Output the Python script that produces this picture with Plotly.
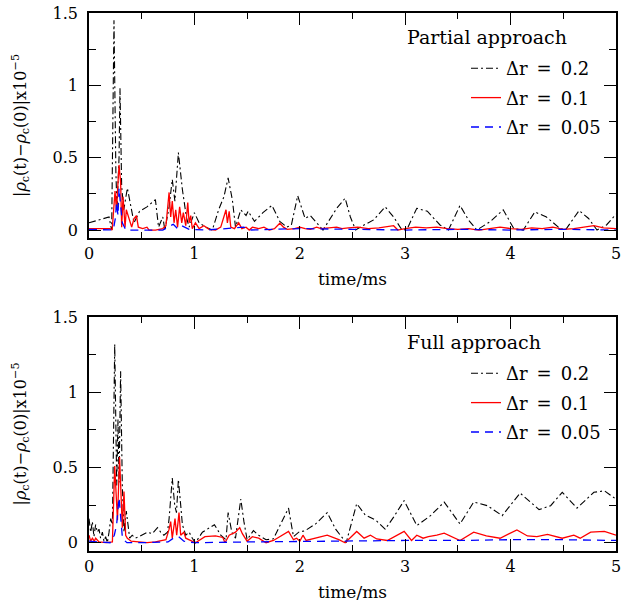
import plotly.graph_objects as go

# ---------------- data ----------------
# Top panel: Partial approach
pb_t = [0.00, 0.10, 0.19, 0.215, 0.237, 0.255, 0.266, 0.285, 0.294, 0.31, 0.33, 0.364, 0.39, 0.427, 0.46, 0.48,
        0.55, 0.63, 0.66, 0.70, 0.72, 0.76, 0.79, 0.815, 0.848, 0.886, 0.924, 0.95, 1.00, 1.045, 1.11, 1.17,
        1.23, 1.28, 1.32, 1.36, 1.39, 1.44, 1.49, 1.51, 1.57, 1.65, 1.735, 1.81, 1.877, 1.92, 1.98, 2.05,
        2.10, 2.16, 2.22, 2.35, 2.43, 2.48, 2.53, 2.61, 2.70, 2.81, 2.89, 2.97, 3.02, 3.11, 3.21, 3.33,
        3.41, 3.52, 3.60, 3.68, 3.81, 3.93, 4.03, 4.12, 4.23, 4.34, 4.47, 4.52, 4.65, 4.74, 4.82, 4.91, 5.00]
pb_v = [0.05, 0.07, 0.09, 0.0, 1.45, 0.4, 0.14, 0.5, 0.98, 0.3, 0.14, 0.29, 0.19, 0.05, 0.10, 0.13,
        0.16, 0.21, 0.02, 0.09, 0.0, 0.16, 0.35, 0.2, 0.535, 0.28, 0.09, 0.02, 0.12, 0.05, 0.02, 0.0,
        0.14, 0.23, 0.36, 0.21, 0.02, 0.14, 0.10, 0.13, 0.06, 0.12, 0.17, 0.06, 0.02, 0.035, 0.237, 0.08,
        0.10, 0.047, 0.0, 0.15, 0.22, 0.09, 0.0, 0.035, 0.07, 0.16, 0.09, 0.0, 0.01, 0.15, 0.13, 0.035,
        0.0, 0.17, 0.07, 0.0, 0.06, 0.14, 0.01, 0.0, 0.125, 0.09, 0.01, 0.0, 0.135, 0.08, 0.0, 0.035, 0.11]

pr_t = [0.0, 0.1, 0.2, 0.22, 0.247, 0.26, 0.272, 0.285, 0.30, 0.31, 0.323, 0.342, 0.354, 0.38, 0.405, 0.427,
        0.45, 0.468, 0.51, 0.55, 0.57, 0.63, 0.70, 0.73, 0.744, 0.76, 0.775, 0.79, 0.807, 0.823, 0.84, 0.86,
        0.88, 0.895, 0.918, 0.937, 0.95, 0.965, 0.98, 1.01, 1.045, 1.09, 1.14, 1.20, 1.25, 1.28, 1.30, 1.313,
        1.33, 1.345, 1.38, 1.42, 1.45, 1.49, 1.52, 1.55, 1.61, 1.66, 1.71, 1.76, 1.81, 1.845, 1.88, 1.95,
        2.0, 2.05, 2.1, 2.16, 2.2, 2.35, 2.4, 2.46, 2.55, 2.65, 2.75, 2.89, 2.93, 3.0, 3.1, 3.2, 3.3, 3.4,
        3.5, 3.6, 3.7, 3.8, 3.9, 4.0, 4.1, 4.2, 4.3, 4.4, 4.5, 4.6, 4.7, 4.79, 4.88, 5.0]
pr_v = [0.01, 0.01, 0.01, 0.0, 0.27, 0.14, 0.3, 0.45, 0.33, 0.02, 0.23, 0.02, 0.14, 0.07, 0.02, 0.08,
        0.10, 0.02, 0.01, 0.02, 0.0, 0.0, 0.01, 0.03, 0.14, 0.26, 0.09, 0.2, 0.05, 0.14, 0.02, 0.16,
        0.05, 0.12, 0.03, 0.19, 0.05, 0.10, 0.01, 0.05, 0.01, 0.03, 0.005, 0.0, 0.02, 0.10, 0.14, 0.05,
        0.13, 0.02, 0.01, 0.05, 0.01, 0.02, 0.0, 0.02, 0.01, 0.02, 0.0, 0.01, 0.047, 0.02, 0.005, 0.01,
        0.02, 0.01, 0.005, 0.02, 0.01, 0.02, 0.01, 0.015, 0.02, 0.01, 0.015, 0.03, 0.0, 0.01, 0.02, 0.015, 0.02, 0.01,
        0.005, 0.01, 0.0, 0.01, 0.02, 0.01, 0.005, 0.015, 0.01, 0.02, 0.005, 0.01, 0.02, 0.03, 0.015, 0.01]

pbl_t = [0.0, 0.2, 0.23, 0.25, 0.262, 0.275, 0.285, 0.30, 0.316, 0.33, 0.35, 0.45, 0.55, 0.7, 0.75, 0.8,
         0.84, 0.88, 0.95, 1.1, 1.3, 1.47, 1.52, 1.8, 2.0, 2.5, 3.0, 3.5, 4.0, 4.5, 5.0]
pbl_v = [0.005, 0.005, 0.0, 0.08, 0.19, 0.10, 0.29, 0.17, 0.05, 0.03, 0.0, 0.0, 0.0, 0.0, 0.02, 0.04,
         0.01, 0.03, 0.005, 0.0, 0.01, 0.02, 0.0, 0.005, 0.01, 0.005, 0.0, 0.005, 0.0, 0.005, 0.0]

# Bottom panel: Full approach
fb_t = [0.0, 0.016, 0.032, 0.047, 0.063, 0.079, 0.095, 0.11, 0.127, 0.142, 0.158, 0.174, 0.19, 0.206, 0.222,
        0.244, 0.263, 0.275, 0.285, 0.30, 0.316, 0.332, 0.354, 0.373, 0.386, 0.41, 0.44, 0.475, 0.506, 0.554,
        0.60, 0.65, 0.68, 0.71, 0.745, 0.76, 0.79, 0.813, 0.83, 0.848, 0.87, 0.886, 0.918, 0.95, 0.98, 1.01,
        1.076, 1.14, 1.19, 1.25, 1.30, 1.32, 1.355, 1.39, 1.44, 1.47, 1.50, 1.56, 1.61, 1.68, 1.75, 1.893,
        1.94, 1.99, 2.05, 2.15, 2.26, 2.34, 2.44, 2.54, 2.62, 2.72, 2.81, 2.89, 2.99, 3.11, 3.24, 3.37,
        3.52, 3.65, 3.78, 3.92, 4.09, 4.27, 4.38, 4.49, 4.63, 4.79, 4.89, 5.0]
fb_v = [0.16, 0.07, 0.14, 0.04, 0.12, 0.07, 0.09, 0.03, 0.07, 0.01, 0.04, 0.0, 0.07, 0.16, 0.12,
        1.32, 0.38, 0.82, 0.4, 1.14, 0.38, 0.07, 0.21, 0.12, 0.03, 0.05, 0.03, 0.04, 0.05, 0.07,
        0.06, 0.10, 0.07, 0.05, 0.07, 0.16, 0.43, 0.25, 0.2, 0.42, 0.25, 0.12, 0.05, 0.07, 0.03, 0.0,
        0.07, 0.10, 0.12, 0.05, 0.02, 0.2, 0.07, 0.03, 0.29, 0.14, 0.02, 0.08, 0.05, 0.02, 0.026, 0.23,
        0.04, 0.07, 0.08, 0.125, 0.2, 0.09, 0.0, 0.26, 0.185, 0.15, 0.09, 0.17, 0.28, 0.114, 0.18, 0.27,
        0.125, 0.27, 0.246, 0.18, 0.33, 0.22, 0.246, 0.335, 0.23, 0.335, 0.345, 0.29]

fr_t = [0.0, 0.016, 0.032, 0.05, 0.063, 0.095, 0.16, 0.222, 0.244, 0.26, 0.27, 0.29, 0.307, 0.316, 0.332,
        0.348, 0.364, 0.40, 0.47, 0.55, 0.63, 0.73, 0.76, 0.775, 0.79, 0.816, 0.832, 0.854, 0.87, 0.90, 0.918,
        0.95, 1.01, 1.10, 1.20, 1.27, 1.29, 1.33, 1.39, 1.43, 1.455, 1.50, 1.55, 1.61, 1.68, 1.75, 1.893,
        1.94, 1.97, 2.0, 2.03, 2.06, 2.15, 2.26, 2.37, 2.43, 2.54, 2.61, 2.67, 2.73, 2.83, 2.92, 2.99,
        3.06, 3.11, 3.17, 3.22, 3.30, 3.37, 3.52, 3.65, 3.77, 3.90, 4.06, 4.16, 4.25, 4.35, 4.49, 4.60,
        4.66, 4.76, 4.89, 5.0]
fr_v = [0.05, 0.01, 0.03, 0.01, 0.03, 0.005, 0.0, 0.005, 0.51, 0.24, 0.15, 0.57, 0.24, 0.10, 0.34,
        0.05, 0.03, 0.01, 0.005, 0.0, 0.005, 0.02, 0.09, 0.14, 0.03, 0.16, 0.05, 0.2, 0.05, 0.07, 0.03,
        0.02, 0.0, 0.04, 0.045, 0.035, 0.0, 0.05, 0.07, 0.10, 0.06, 0.01, 0.04, 0.03, 0.0, 0.015, 0.075,
        0.02, 0.03, 0.01, 0.05, 0.015, 0.03, 0.05, 0.02, 0.0, 0.075, 0.03, 0.05, 0.025, 0.015, 0.05, 0.075,
        0.015, 0.05, 0.03, 0.04, 0.05, 0.063, 0.015, 0.07, 0.045, 0.03, 0.085, 0.045, 0.04, 0.055, 0.03, 0.05,
        0.03, 0.07, 0.075, 0.05]

fbl_t = [0.0, 0.1, 0.2, 0.24, 0.262, 0.285, 0.30, 0.316, 0.33, 0.36, 0.5, 0.75, 0.80, 0.85, 0.9, 1.0,
         1.5, 2.0, 2.5, 3.0, 3.5, 4.0, 4.5, 5.0]
fbl_v = [0.01, 0.005, 0.0, 0.05, 0.12, 0.30, 0.15, 0.04, 0.02, 0.0, 0.0, 0.005, 0.03, 0.04, 0.01, 0.0,
         0.005, 0.01, 0.01, 0.015, 0.015, 0.02, 0.02, 0.015]

series_names = ["\u0394r\u2002=\u20020.2", "\u0394r\u2002=\u20020.1", "\u0394r\u2002=\u20020.05"]
panel_titles = ["Partial approach", "Full approach"]

# ---------------- figure ----------------
FONT = "DejaVu Serif"
W, H = 621, 606
ML, MR = 89, 5
PW = W - ML - MR


def px_x(p):  # pixel -> paper x
    return (p - ML) / PW


def px_y(p):  # pixel -> paper y
    return 1 - p / H


styles = [dict(color="black", width=1.1, dash="7px,3px,2px,3px"),
          dict(color="red", width=1.3, dash="solid"),
          dict(color="blue", width=1.3, dash="8px,6px")]

fig = go.Figure()
panels = [
    ("x", "y", "legend", [(pb_t, pb_v), (pr_t, pr_v), (pbl_t, pbl_v)]),
    ("x2", "y2", "legend2", [(fb_t, fb_v), (fr_t, fr_v), (fbl_t, fbl_v)]),
]
for xa, ya, lg, data in panels:
    for i, (t, v) in enumerate(data):
        fig.add_trace(go.Scatter(x=t, y=v, mode="lines", xaxis=xa, yaxis=ya,
                                 name=series_names[i], line=styles[i], legend=lg,
                                 legendgroup=f"{lg}{i}", showlegend=True))

ytitle = "|<i>\u03c1</i><sub>c</sub>(t)\u2212<i>\u03c1</i><sub>c</sub>(0)|x10<sup>\u22125</sup>"

axis_common = dict(showline=True, linecolor="black", linewidth=1.5, mirror="ticks",
                   ticks="inside", tickcolor="black", tickwidth=1.2, showgrid=False,
                   zeroline=False, automargin=False, ticklabeloverflow="allow",
                   tickfont=dict(family=FONT, size=16, color="black"))
xminor = dict(dtick=0.5, ticklen=6, ticks="inside", tickcolor="black", tickwidth=1.2)
yminor = dict(dtick=0.25, ticklen=7, ticks="inside", tickcolor="black", tickwidth=1.2)

fig.update_layout(
    width=W, height=H,
    margin=dict(l=ML, r=MR, t=0, b=0),
    plot_bgcolor="white", paper_bgcolor="white",
    font=dict(family=FONT, color="black"),
    xaxis=dict(domain=[0, 1], range=[0, 5], dtick=1, ticklen=12, anchor="y", minor=xminor,
               title=dict(text="time/ms", font=dict(family=FONT, size=17), standoff=11),
               **axis_common),
    yaxis=dict(domain=[px_y(238), px_y(13)], range=[-0.055, 1.5], dtick=0.5, ticklen=12, anchor="x",
               minor=yminor, ticklabelstandoff=6,
               title=dict(text=ytitle, font=dict(family=FONT, size=16), standoff=22),
               **axis_common),
    xaxis2=dict(domain=[0, 1], range=[0, 5], dtick=1, ticklen=12, anchor="y2", minor=xminor,
                title=dict(text="time/ms", font=dict(family=FONT, size=17), standoff=11),
                **axis_common),
    yaxis2=dict(domain=[px_y(551), px_y(317)], range=[-0.055, 1.5], dtick=0.5, ticklen=12, anchor="x2",
                minor=yminor, ticklabelstandoff=6,
                title=dict(text=ytitle, font=dict(family=FONT, size=16), standoff=22),
                **axis_common),
    legend=dict(x=px_x(466), y=px_y(50), xanchor="left", yanchor="top", xref="paper", yref="paper",
                bgcolor="rgba(0,0,0,0)", font=dict(family=FONT, size=18), tracegroupgap=3,
                itemclick=False, borderwidth=0),
    legend2=dict(x=px_x(466), y=px_y(355), xanchor="left", yanchor="top", xref="paper", yref="paper",
                 bgcolor="rgba(0,0,0,0)", font=dict(family=FONT, size=18), tracegroupgap=3,
                 itemclick=False, borderwidth=0),
    annotations=[
        dict(text=panel_titles[0], xref="paper", yref="paper", x=px_x(405), y=px_y(37),
             xanchor="left", yanchor="middle", showarrow=False, font=dict(family=FONT, size=19)),
        dict(text=panel_titles[1], xref="paper", yref="paper", x=px_x(405), y=px_y(342),
             xanchor="left", yanchor="middle", showarrow=False, font=dict(family=FONT, size=19)),
    ],
)

fig.write_html("out.html", config={"displayModeBar": False},
               post_script="document.body.style.margin='0';document.body.style.padding='0';")
